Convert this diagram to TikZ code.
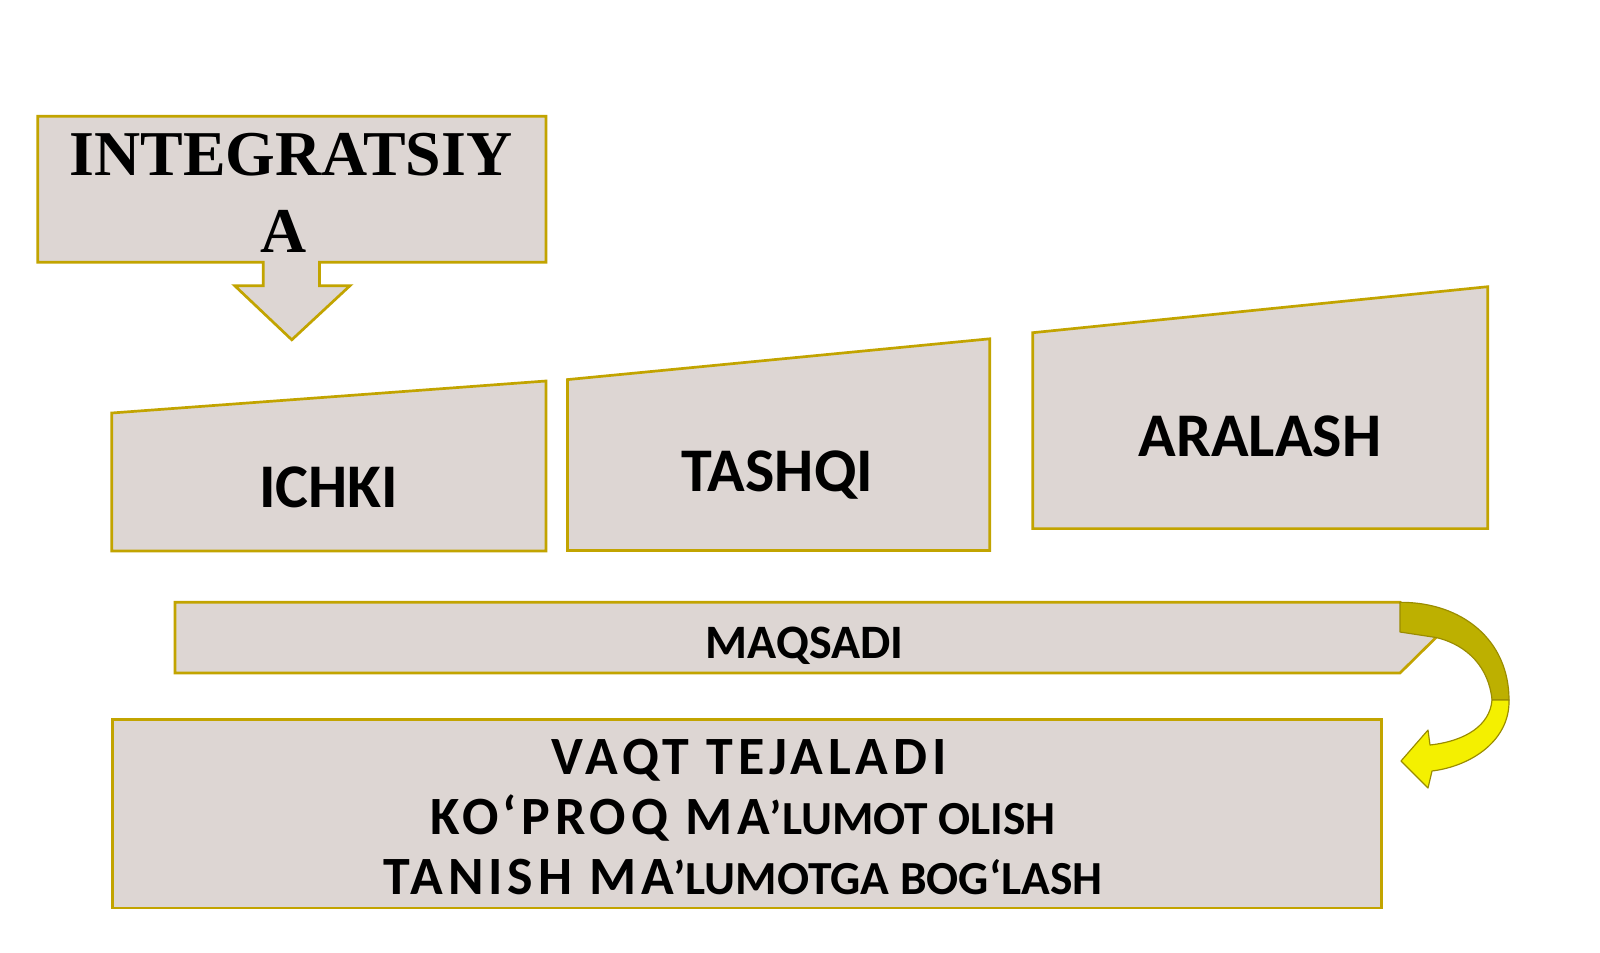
\documentclass[tikz,border=0pt]{standalone}
\usepackage{fontspec}
\newfontfamily\tnr{Liberation Serif}
\newfontfamily\carl{Carlito}
\newfontfamily\carlsp[LetterSpace=9]{Carlito}
\definecolor{boxfill}{HTML}{DDD6D3}
\definecolor{boxline}{HTML}{C2A400}
\definecolor{ribdark}{HTML}{BDB000}
\definecolor{ribbright}{HTML}{F4F000}
\definecolor{ribline}{HTML}{9A8C00}
\tikzset{
  shapebox/.style={fill=boxfill, draw=boxline, line width=2.3pt, line join=miter},
  ribbon/.style={draw=ribline, line width=1pt, line join=round},
  bigsans/.style={inner sep=0pt, anchor=base, font=\carl\bfseries\fontsize{53}{60}\selectfont},
  midsans/.style={inner sep=0pt, anchor=base, font=\carl\bfseries\fontsize{41}{48}\selectfont},
  listsans/.style={inner sep=0pt, anchor=base},
  serifbig/.style={inner sep=0pt, anchor=base, font=\tnr\bfseries\fontsize{54.5}{64}\selectfont}
}
\newcommand{\bigpart}[1]{{\carlsp\bfseries\fontsize{46}{52}\selectfont #1}}
\newcommand{\smallpart}[1]{{\carl\bfseries\fontsize{40.5}{46}\selectfont #1}}
\begin{document}
\begin{tikzpicture}[x=0.03cm,y=-0.03cm]
\useasboundingbox[fill=white] (0,0) rectangle (1600,952);

% INTEGRATSIYA callout box with down arrow
\draw[shapebox] (37.8,116.3) -- (546,116.3) -- (546,262.2) -- (319.4,262.2)
  -- (319.4,285.7) -- (350,285.7) -- (291.8,339.8) -- (234.7,285.7)
  -- (263.3,285.7) -- (263.3,262.2) -- (37.8,262.2) -- cycle;
\node[serifbig] (integ1) at (291,175.5) {INTEGRATSIY};
\node[serifbig] (integ2) at (284,252) {A};

% Trapezoids
\draw[shapebox] (111.7,413) -- (546,381) -- (546,551) -- (111.7,551) -- cycle;
\node[bigsans] (ichki) at (328.6,507.3) {ICHKI};

\draw[shapebox] (567.4,379.6) -- (989.8,338.8) -- (989.8,550.5) -- (567.4,550.5) -- cycle;
\node[bigsans] (tashqi) at (777.5,491.8) {TASHQI};

\draw[shapebox] (1032.7,332.7) -- (1487.8,286.7) -- (1487.8,528.6) -- (1032.7,528.6) -- cycle;
\node[bigsans] (aralash) at (1260,456) {ARALASH};

% MAQSADI pentagon arrow
\draw[shapebox] (175,602.3) -- (1400,602.3) -- (1436,637.5) -- (1400,673) -- (175,673) -- cycle;
\node[midsans] (maqsadi) at (804.6,658) {MAQSADI};

% Bottom box
\draw[shapebox] (112.2,719.4) rectangle (1381.6,908);
\node[listsans] (line1) at (749,774.5) {\bigpart{VAQT TEJALADI}};
\node[listsans] (line2) at (743,834.7) {\bigpart{KO‘PROQ MA}\smallpart{’LUMOT OLISH}};
\node[listsans] (line3) at (743,894) {\bigpart{TANISH MA}\smallpart{’LUMOTGA BOG‘LASH}};

% Curved ribbon arrow
\draw[ribbon, fill=ribdark] (1400,602.3) .. controls (1462,602) and (1509,640) .. (1509,700)
  -- (1492,700) .. controls (1489,668) and (1468,645) .. (1436,637.5) -- (1400,632) -- cycle;
\draw[ribbon, fill=ribbright] (1509,700) .. controls (1510,740) and (1472,766) .. (1432,771)
  -- (1428,788) -- (1401,761) -- (1428,730) -- (1430,745)
  .. controls (1466,741) and (1490,725) .. (1492,700) -- cycle;
\end{tikzpicture}
\end{document}
